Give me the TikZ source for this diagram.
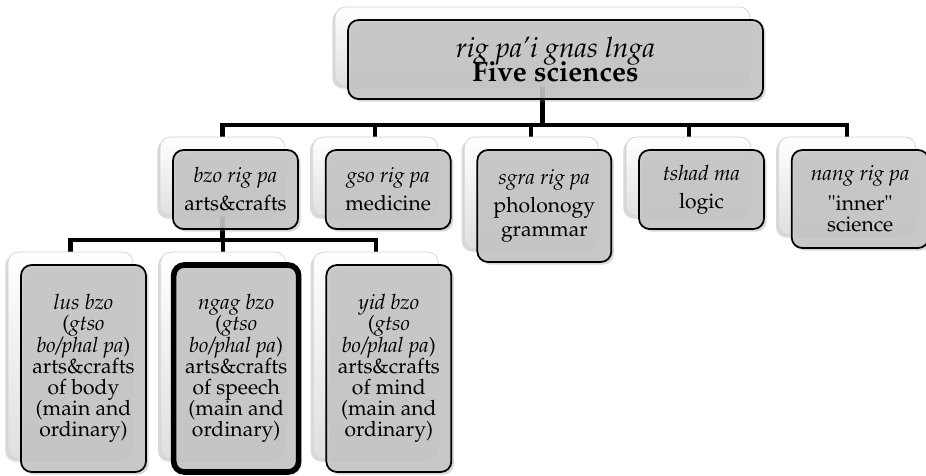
\documentclass[tikz,border=0pt]{standalone}
\usepackage[T1]{fontenc}
\renewcommand{\rmdefault}{ppl}
\usepackage{xcolor}
\usepackage{tikz}
\usetikzlibrary{positioning, backgrounds, shadows}

\begin{document}
\begin{tikzpicture}[
    x=0.02cm, y=-0.02cm,
    card/.style={rectangle, rounded corners=6pt, draw=gray!35, top color=white, bottom color=gray!25, drop shadow={shadow xshift=-1.5pt, shadow yshift=-1.5pt, opacity=0.3}},
    plate/.style={rectangle, rounded corners=6pt, draw, line width=1pt, fill=gray!45, fill opacity=0.88, text opacity=1, align=center, inner sep=0pt, font={\fontsize{12}{12}\selectfont\lineskiplimit=-20pt\relax}, drop shadow={shadow xshift=1.5pt, shadow yshift=-1.5pt, opacity=0.3}},
    std/.style={minimum width=2.5cm, minimum height=1.58cm},
    tall/.style={minimum width=2.5cm, minimum height=4.14cm},
    link/.style={line width=2.3pt, black}
]
\useasboundingbox (0,0) rectangle (926,476);

% Top Level
\node[card, minimum width=8.3cm, minimum height=1.58cm] (five) at (542.5,46.5) {};
\node[plate, minimum width=8.3cm, minimum height=1.58cm, font={\fontsize{16}{14}\selectfont\lineskiplimit=-20pt\relax}] (fiveF) at ([shift={(0.26cm,-0.26cm)}]five.center) {\textit{rig pa'i gnas lnga}\\\textbf{Five sciences}};

% Second Level
\node[card, std] (bzo) at (222.5,176.5) {};
\node[card, std, right=0.54cm of bzo] (gso) {};
\node[card, minimum width=2.68cm, minimum height=2.24cm, right=0.52cm of gso.north east, anchor=north west] (sgra) {};
\node[card, std, right=0.54cm of sgra.north east, anchor=north west] (tshad) {};
\node[card, minimum width=2.74cm, minimum height=1.96cm, right=0.54cm of tshad.north east, anchor=north west] (nang) {};

\node[plate, std] (bzoF) at ([shift={(0.26cm,-0.26cm)}]bzo.center) {\textit{bzo rig pa}\\[4pt]arts\&crafts};
\node[plate, std] (gsoF) at ([shift={(0.26cm,-0.26cm)}]gso.center) {\textit{gso rig pa}\\[4pt]medicine};
\node[plate, minimum width=2.68cm, minimum height=2.24cm] (sgraF) at ([shift={(0.26cm,-0.26cm)}]sgra.center) {\textit{sgra rig pa}\\[4pt]pholonogy\\[1.5pt]grammar};
\node[plate, std] (tshadF) at ([shift={(0.26cm,-0.26cm)}]tshad.center) {\textit{tshad ma}\\[4pt]logic};
\node[plate, minimum width=2.74cm, minimum height=1.96cm] (nangF) at ([shift={(0.26cm,-0.26cm)}]nang.center) {\textit{nang rig pa}\\[5pt]\textquotedbl inner\textquotedbl\\science};

% Third Level
\node[card, tall] (lus) at (70.5,355.5) {};
\node[card, tall, right=0.54cm of lus] (ngag) {};
\node[card, tall, right=0.54cm of ngag] (yid) {};

\node[plate, tall] (lusF) at ([shift={(0.26cm,-0.26cm)}]lus.center) {\textit{lus bzo}\\(\textit{gtso}\\\textit{bo/phal pa})\\arts\&crafts\\of body\\(main and\\ordinary)};
\node[plate, tall, line width=3.2pt] (ngagF) at ([shift={(0.26cm,-0.26cm)}]ngag.center) {\textit{ngag bzo}\\(\textit{gtso}\\\textit{bo/phal pa})\\arts\&crafts\\of speech\\(main and\\ordinary)};
\node[plate, tall] (yidF) at ([shift={(0.26cm,-0.26cm)}]yid.center) {\textit{yid bzo}\\(\textit{gtso}\\\textit{bo/phal pa})\\arts\&crafts\\of mind\\(main and\\ordinary)};

% Connectors
\coordinate (bus1) at (0,125);
\coordinate (bus2) at (0,240);
\begin{scope}[on background layer]
\foreach \n in {bzo,gso,sgra,tshad,nang}
    \draw[link] (five.south) -- (five.south |- bus1) -| (\n.north);
\foreach \n in {lus,ngag,yid}
    \draw[link] (bzo.south) -- (bzo.south |- bus2) -| (\n.north);
\end{scope}

\end{tikzpicture}
\end{document}
